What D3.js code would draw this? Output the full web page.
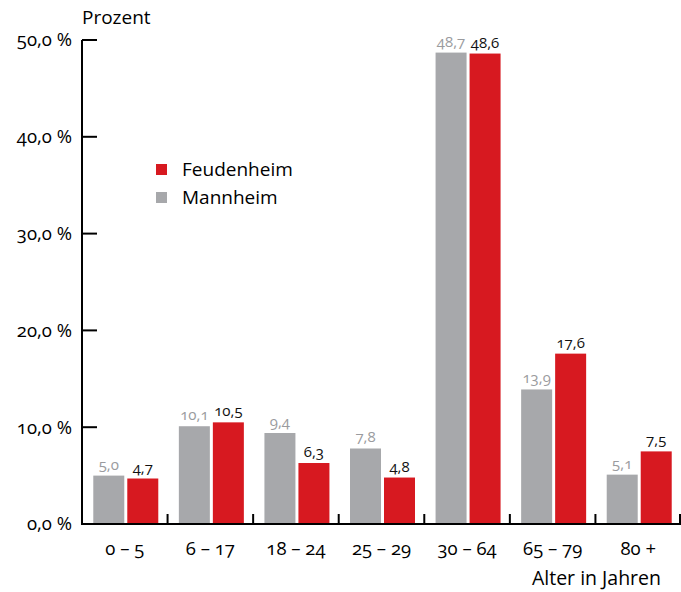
<!DOCTYPE html>
<html>
<head>
<meta charset="utf-8">
<script src="https://cdn.jsdelivr.net/npm/d3@7"></script>
<style>
  body { margin: 0; background: #fff; }
  svg text { font-family: "Open Sans", sans-serif; font-feature-settings: "onum" 1; }
</style>
</head>
<body>
<div id="chart"></div>
<script>
var categories = ["0 – 5", "6 – 17", "18 – 24", "25 – 29", "30 – 64", "65 – 79", "80 +"];
var mannheim = [5.0, 10.1, 9.4, 7.8, 48.7, 13.9, 5.1];
var feudenheim = [4.7, 10.5, 6.3, 4.8, 48.6, 17.6, 7.5];
var yTicks = [0, 10, 20, 30, 40, 50];

var width = 681, height = 592;
var margin = {top: 40, left: 82, right: 0, bottom: 68};
var innerW = width - margin.left - margin.right,
    innerH = height - margin.top - margin.bottom;

var red = "#d71920", grey = "#a7a8ab";
var fmt = function(v) { return v.toFixed(1).replace(".", ","); };

var svg = d3.select("#chart").append("svg")
    .attr("width", width)
    .attr("height", height);

var g = svg.append("g")
    .attr("transform", "translate(" + margin.left + "," + margin.top + ")");

var x = d3.scaleBand().domain(categories).range([0, innerW]).paddingInner(0).paddingOuter(0);
var y = d3.scaleLinear().domain([0, 50]).range([innerH, 0]);

// y axis: line with inward ticks
g.append("line")
    .attr("x1", 0).attr("x2", 0)
    .attr("y1", y(50)).attr("y2", y(0))
    .attr("stroke", "#000").attr("stroke-width", 2);

g.selectAll(".ytick").data(yTicks).enter().append("line")
    .attr("x1", 0).attr("x2", 15)
    .attr("y1", function(d) { return y(d); })
    .attr("y2", function(d) { return y(d); })
    .attr("stroke", "#000").attr("stroke-width", 2);

g.selectAll(".ylabel").data(yTicks).enter().append("text")
    .attr("x", -10)
    .attr("y", function(d) { return y(d); })
    .attr("dy", "0.35em")
    .attr("text-anchor", "end")
    .attr("font-size", 18.5)
    .text(function(d) { return fmt(d) + " %"; });

g.append("text")
    .attr("x", 0).attr("y", -16)
    .attr("font-size", 19)
    .text("Prozent");

// x axis
g.append("line")
    .attr("x1", -1).attr("x2", innerW)
    .attr("y1", y(0)).attr("y2", y(0))
    .attr("stroke", "#000").attr("stroke-width", 2);

var bounds = categories.map(function(c) { return x(c) + x.bandwidth(); });
g.selectAll(".xtick").data(bounds).enter().append("line")
    .attr("x1", function(d) { return Math.min(d, innerW - 1); })
    .attr("x2", function(d) { return Math.min(d, innerW - 1); })
    .attr("y1", y(0) - 10).attr("y2", y(0))
    .attr("stroke", "#000").attr("stroke-width", 2);

g.selectAll(".xlabel").data(categories).enter().append("text")
    .attr("x", function(d) { return x(d) + x.bandwidth() / 2; })
    .attr("y", y(0) + 31)
    .attr("text-anchor", "middle")
    .attr("font-size", 18.5)
    .text(function(d) { return d; });

g.append("text")
    .attr("x", innerW - 20).attr("y", y(0) + 61)
    .attr("text-anchor", "end")
    .attr("font-size", 19.5)
    .text("Alter in Jahren");

// bars
var barW = 31, gap = 3;
var groups = g.selectAll(".grp").data(categories).enter().append("g")
    .attr("transform", function(d) {
        return "translate(" + (x(d) + x.bandwidth() / 2 - barW - gap / 2 + 1) + ",0)";
    });

groups.append("rect")
    .attr("x", 0).attr("width", barW)
    .attr("y", function(d, i) { return y(mannheim[i]); })
    .attr("height", function(d, i) { return y(0) - y(mannheim[i]) - 1; })
    .attr("fill", grey);

groups.append("rect")
    .attr("x", barW + gap).attr("width", barW)
    .attr("y", function(d, i) { return y(feudenheim[i]); })
    .attr("height", function(d, i) { return y(0) - y(feudenheim[i]) - 1; })
    .attr("fill", red);

groups.append("text")
    .attr("x", barW / 2)
    .attr("y", function(d, i) { return y(mannheim[i]) - 6; })
    .attr("text-anchor", "middle")
    .attr("font-size", 15)
    .attr("fill", "#9a9b9e")
    .text(function(d, i) { return fmt(mannheim[i]); });

groups.append("text")
    .attr("x", barW + gap + barW / 2)
    .attr("y", function(d, i) { return y(feudenheim[i]) - 6; })
    .attr("text-anchor", "middle")
    .attr("font-size", 15)
    .attr("fill", "#111")
    .text(function(d, i) { return fmt(feudenheim[i]); });

// legend
var legend = svg.append("g").attr("transform", "translate(156,164)");
var legendItems = [{name: "Feudenheim", color: red}, {name: "Mannheim", color: grey}];
legend.selectAll("rect").data(legendItems).enter().append("rect")
    .attr("x", 0).attr("y", function(d, i) { return i * 28; })
    .attr("width", 11).attr("height", 11)
    .attr("fill", function(d) { return d.color; });
legend.selectAll("text").data(legendItems).enter().append("text")
    .attr("x", 26).attr("y", function(d, i) { return i * 28 + 12; })
    .attr("font-size", 19)
    .text(function(d) { return d.name; });
</script>
</body>
</html>
